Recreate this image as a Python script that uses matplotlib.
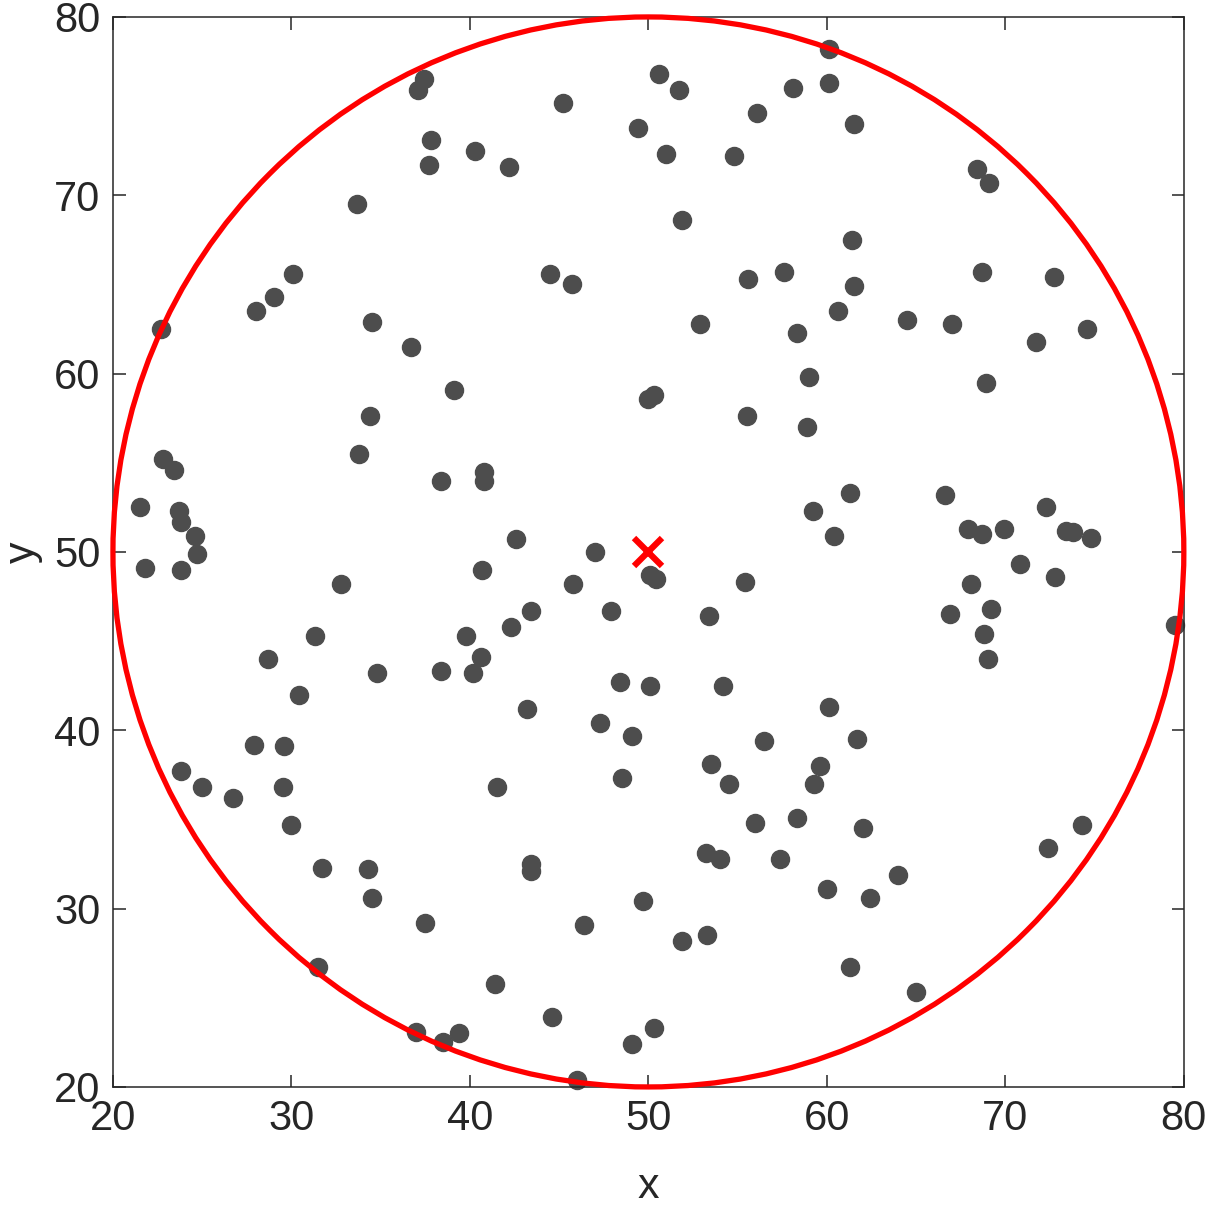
import matplotlib.pyplot as plt
from matplotlib.patches import Circle

plt.rcParams['font.family'] = ['Liberation Sans', 'DejaVu Sans']

# scattered points
xs = [60.1, 60.1, 50.6, 51.7, 37.4, 37.1, 45.2, 56.1, 58.1, 61.5,
      49.4, 51.0, 54.8, 37.8, 37.7, 40.3, 42.2, 51.9, 33.7, 61.4,
      44.5, 45.7, 55.6, 57.6, 61.5, 60.6, 68.7, 72.7, 30.1, 29.0,
      28.0, 22.7, 34.5, 36.7, 52.9, 64.5, 67.0, 58.3, 71.7, 74.6,
      59.0, 68.9, 39.1, 50.0, 50.3, 34.4, 55.5, 58.9, 33.8, 40.8,
      40.8, 38.4, 22.8, 23.4, 21.5, 23.7, 23.8, 24.6, 21.8, 23.8,
      24.7, 59.2, 61.3, 66.6, 72.3, 73.4, 73.8, 74.8, 69.9, 67.9,
      68.7, 60.4, 42.6, 47.0, 50.1, 50.4, 45.8, 40.7, 32.8, 55.4,
      70.8, 72.8, 68.1, 66.9, 69.2, 68.8, 69.0, 79.5, 47.9, 53.4,
      43.4, 42.3, 31.3, 39.8, 40.6, 40.2, 38.4, 34.8, 28.7, 30.4,
      48.4, 50.1, 54.2, 43.2, 60.1, 47.3, 49.1, 56.5, 61.7, 27.9,
      29.6, 23.8, 25.0, 26.7, 29.5, 41.5, 53.5, 54.5, 59.6, 59.3,
      74.3, 30.0, 56.0, 58.3, 62.0, 48.5, 31.7, 34.3, 43.4, 43.4,
      53.2, 54.0, 57.4, 60.0, 34.5, 64.0, 72.4, 49.7, 62.4, 37.5,
      46.4, 51.9, 53.3, 31.5, 61.3, 41.4, 65.0, 44.6, 50.3, 37.0,
      39.4, 38.5, 49.1, 46.0, 68.4, 69.1]
ys = [78.2, 76.3, 76.8, 75.9, 76.5, 75.9, 75.2, 74.6, 76.0, 74.0,
      73.8, 72.3, 72.2, 73.1, 71.7, 72.5, 71.6, 68.6, 69.5, 67.5,
      65.6, 65.0, 65.3, 65.7, 64.9, 63.5, 65.7, 65.4, 65.6, 64.3,
      63.5, 62.5, 62.9, 61.5, 62.8, 63.0, 62.8, 62.3, 61.8, 62.5,
      59.8, 59.5, 59.1, 58.6, 58.8, 57.6, 57.6, 57.0, 55.5, 54.5,
      54.0, 54.0, 55.2, 54.6, 52.5, 52.3, 51.7, 50.9, 49.1, 49.0,
      49.9, 52.3, 53.3, 53.2, 52.5, 51.2, 51.1, 50.8, 51.3, 51.3,
      51.0, 50.9, 50.7, 50.0, 48.7, 48.5, 48.2, 49.0, 48.2, 48.3,
      49.3, 48.6, 48.2, 46.5, 46.8, 45.4, 44.0, 45.9, 46.7, 46.4,
      46.7, 45.8, 45.3, 45.3, 44.1, 43.2, 43.3, 43.2, 44.0, 42.0,
      42.7, 42.5, 42.5, 41.2, 41.3, 40.4, 39.7, 39.4, 39.5, 39.2,
      39.1, 37.7, 36.8, 36.2, 36.8, 36.8, 38.1, 37.0, 38.0, 37.0,
      34.7, 34.7, 34.8, 35.1, 34.5, 37.3, 32.3, 32.2, 32.5, 32.1,
      33.1, 32.8, 32.8, 31.1, 30.6, 31.9, 33.4, 30.4, 30.6, 29.2,
      29.1, 28.2, 28.5, 26.7, 26.7, 25.8, 25.3, 23.9, 23.3, 23.1,
      23.0, 22.5, 22.4, 20.4, 71.5, 70.7]

center = (50, 50)
radius = 30
ticks = [20, 30, 40, 50, 60, 70, 80]

fig = plt.figure(figsize=(12.08, 12.10), dpi=100)
ax = fig.add_axes([0.0935, 0.1017, 0.8865, 0.8843])

ax.plot(xs, ys, 'o', color='#4d4d4d', markersize=13, clip_on=False, zorder=2)
ax.add_patch(Circle(center, radius, fill=False, edgecolor='#ff0000',
                    linewidth=3.8, clip_on=False, zorder=3))
ax.plot(center[0], center[1], 'x', color='#ff0000', markersize=20,
        markeredgewidth=4.5, clip_on=False, zorder=4)

ax.set_xlim(20, 80)
ax.set_ylim(20, 80)
ax.set_xticks(ticks)
ax.set_yticks(ticks)
ax.tick_params(direction='in', length=9, width=1.1, top=True, right=True,
               labelsize=30, colors='#262626', pad=9)
for s in ax.spines.values():
    s.set_linewidth(1.1)
    s.set_color('#262626')
ax.set_xlabel('x', fontsize=31, color='#262626', labelpad=20)
ax.set_ylabel('y', fontsize=31, color='#262626', labelpad=8)

fig.savefig('out.png', dpi=100)
